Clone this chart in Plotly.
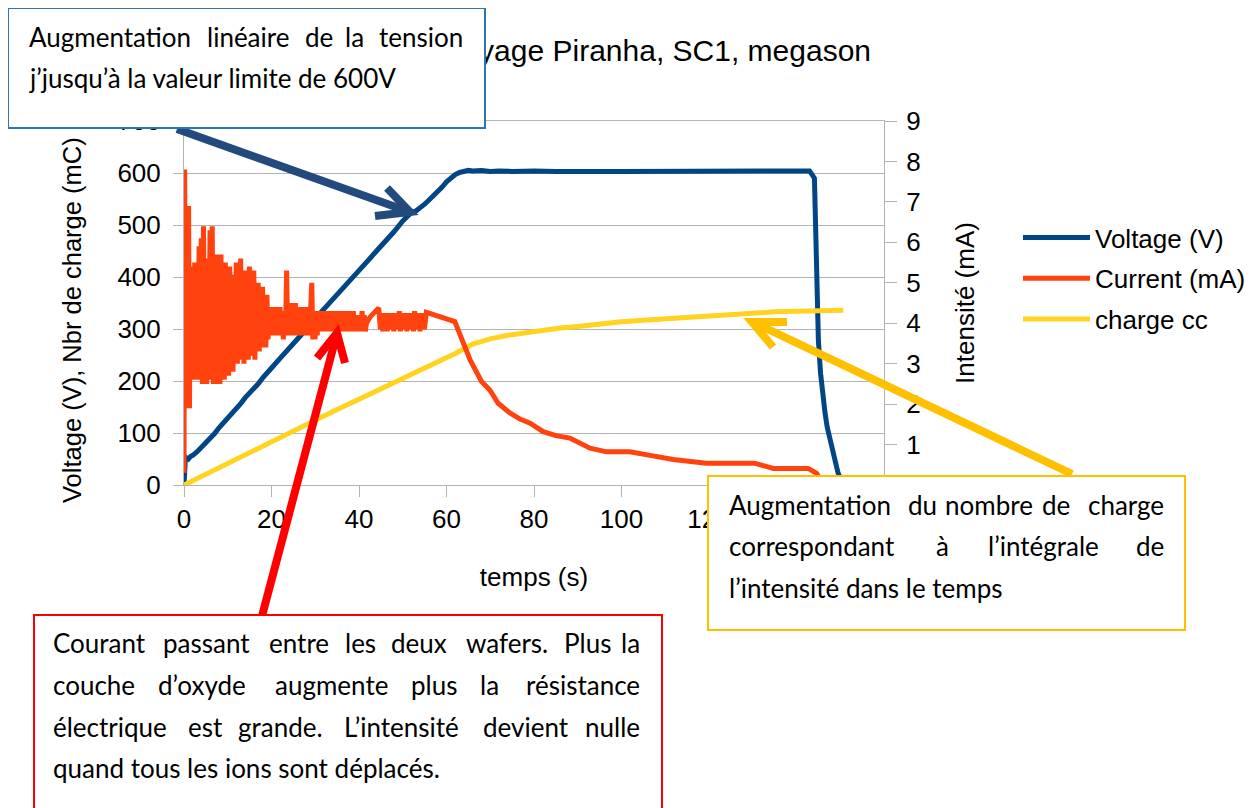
import plotly.graph_objects as go

# ---------------- data ----------------
time_voltage = [0, 0.15, 0.3, 0.6, 1, 1.5, 2, 3, 4, 5, 6, 7, 8, 9, 10, 11, 12, 13, 14, 15,
                16, 17, 18, 19, 20, 22, 24, 26, 28, 30, 32, 34, 36, 38, 40, 42, 44, 46, 48, 50,
                51, 52, 53, 54, 55, 56, 57, 58, 59, 60, 61, 62, 63, 64, 65, 66, 68, 70, 72, 75,
                78, 80, 85, 90, 95, 100, 105, 110, 115, 120, 125, 130, 135, 140, 143, 144.1,
                144.2, 144.3, 144.5, 144.8, 145, 145.5, 146, 146.5, 147, 147.7, 148.5, 149.5,
                150.3, 151]
voltage_v = [0, 25, 48, 52, 50, 55, 57, 64, 72, 80, 90, 99, 110, 119, 130, 138, 148, 157, 168, 176,
             187, 195, 206, 214, 225, 244, 262, 282, 300, 320, 338, 357, 376, 394, 413, 431, 450, 468, 487, 508,
             517, 524, 527, 533, 540, 548, 556, 563, 573, 583, 591, 597, 601, 603, 605, 604, 605, 603, 604, 603,
             604, 604, 603, 604, 603, 603, 603, 604, 603, 604, 604, 605, 604, 604, 604, 590,
             540, 500, 420, 330, 278, 215, 172, 140, 112, 86, 55, 23,
             8, 0]

time_current = [0.0, 0.05, 0.15, 0.3, 0.45, 0.65, 0.85, 1.05, 1.25, 1.45,
                1.7, 1.95, 2.2, 2.45, 2.7, 2.95, 3.2, 3.45, 3.7, 3.95, 4.2, 4.45, 4.7, 4.95, 5.2, 5.45,
                5.7, 5.95, 6.2, 6.45, 6.7, 6.95, 7.2, 7.45, 7.7, 7.95, 8.2, 8.45, 8.7, 8.95, 9.2, 9.45,
                9.7, 9.95, 10.2, 10.45, 10.7, 10.95, 11.2,
                11.45, 11.7, 11.95, 12.2, 12.45, 12.7, 12.95, 13.2, 13.45, 13.7, 13.95, 14.2, 14.45, 14.7,
                14.95, 15.2, 15.45, 15.7, 15.95, 16.2, 16.45, 16.7, 16.95, 17.2, 17.45, 17.7, 17.95, 18.2,
                18.45, 18.7, 18.95, 19.2,
                19.45, 19.7, 19.95, 20.2, 20.45, 20.7, 20.95, 21.2, 21.45, 21.7, 21.95, 22.2, 22.45, 22.7,
                22.95, 23.2, 23.45, 23.7, 23.95, 24.2, 24.45, 24.7, 24.95, 25.2, 25.45, 25.7, 25.95, 26.2,
                26.45, 26.7, 26.95, 27.2, 27.45, 27.7, 27.95, 28.2, 28.45, 28.7, 28.95, 29.2, 29.45,
                29.7, 29.95, 30.2, 30.45, 30.7, 30.95, 31.2, 31.45, 31.7, 31.95, 32.2, 32.45, 32.7, 32.95,
                33.2, 33.45, 33.7, 33.95, 34.2, 34.45, 34.7, 34.95, 35.2, 35.45, 35.7, 35.95, 36.2, 36.45,
                36.7, 36.95, 37.2, 37.45, 37.7, 37.95, 38.2, 38.45, 38.7, 38.95, 39.2, 39.45, 39.7, 39.95,
                40.2, 40.45, 40.7, 40.95, 41.2, 41.45, 41.7,
                42.5, 43.5, 44.5,
                44.9, 45.2, 45.45, 45.7, 45.95, 46.2, 46.45, 46.7, 46.95, 47.2, 47.45, 47.7, 47.95, 48.2,
                48.45, 48.7, 48.95, 49.2, 49.45, 49.7, 49.95, 50.2, 50.45, 50.7, 50.95, 51.2, 51.45, 51.7,
                51.95, 52.2, 52.45, 52.7, 52.95, 53.2, 53.45, 53.7, 53.95, 54.2, 54.45, 54.7, 54.95, 55.4,
                61.9, 63.5, 65.4, 68.0, 69.9, 71.8, 74.5, 76.8, 79.1, 82.1, 85.0, 88.2, 92.8, 96.6,
                101.9, 107.2, 111.8, 119.4, 130.4, 134.7, 142.7, 144.6, 145.5, 147.0, 150.0]
current_ma = [0.3, 2.2, 7.8, 3.8, 1.9, 5.2, 2.2, 6.9, 1.9, 5.4,
              2.7, 5.0, 2.6, 5.5, 2.8, 4.6, 2.6, 5.9, 2.7, 6.1, 2.5, 6.4, 2.6, 5.2, 2.5, 5.6,
              2.8, 6.3, 2.6, 6.4, 2.5, 5.0, 2.5, 5.7, 2.7, 5.6, 2.5, 5.7, 2.6, 5.2, 2.6, 5.5,
              2.8, 5.0, 2.7, 5.4, 2.9, 4.8, 2.8,
              5.2, 3.1, 5.5, 3.0, 4.9, 3.2, 5.6, 3.1, 4.7, 3.0, 5.3, 3.3, 5.0, 3.1,
              5.4, 3.2, 4.6, 3.3, 5.3, 3.1, 4.8, 3.4, 5.0, 3.3, 4.6, 3.4, 4.9, 3.5,
              4.4, 3.4, 4.7, 3.6,
              4.4, 3.7, 4.3, 3.8, 4.4, 3.7, 4.4, 3.8, 4.3, 3.7, 4.4, 3.8, 4.3, 3.6,
              4.2, 3.7, 5.3, 3.7, 4.4, 3.8, 4.5, 3.7, 4.4, 3.8, 4.5, 3.7, 4.3, 3.8,
              4.4, 3.7, 4.4, 3.8, 4.3, 3.7, 4.4, 3.8, 4.3, 3.7, 4.2, 5.0, 3.6,
              4.2, 3.6, 4.3, 3.7, 4.3, 3.8, 4.3, 3.9, 4.3, 3.8, 4.3, 3.9, 4.3, 3.8,
              4.2, 3.9, 4.3, 3.8, 4.3, 3.9, 4.2, 3.8, 4.3, 3.9, 4.3, 3.8, 4.2, 3.9,
              4.3, 3.8, 4.2, 3.9, 4.3, 3.8, 4.2, 3.9, 4.3, 3.8, 4.2, 3.9, 4.2, 3.8,
              4.2, 3.8, 4.3, 3.9, 4.2, 3.8, 4.0,
              4.15, 4.28, 4.38,
              3.85, 4.25, 3.8, 4.2, 3.85, 4.25, 3.8, 4.2, 3.9, 4.25, 3.85, 4.2, 3.8, 4.25,
              3.9, 4.2, 3.85, 4.3, 3.8, 4.2, 3.9, 4.25, 3.85, 4.2, 3.8, 4.25, 3.9, 4.2,
              3.85, 4.25, 3.8, 4.3, 3.9, 4.2, 3.85, 4.25, 3.8, 4.2, 3.9, 4.25, 3.85, 4.27,
              4.04, 3.6, 3.09, 2.56, 2.35, 2.02, 1.78, 1.63, 1.53, 1.32, 1.22, 1.16, 0.91, 0.82,
              0.82, 0.72, 0.63, 0.54, 0.54, 0.41, 0.41, 0.29, 0.12, 0.04, 0.0]

time_charge = [0, 5, 10, 15, 20, 25, 30, 35, 40, 45, 50, 55, 58.5, 62, 66, 70, 74, 78, 82, 86,
               90, 95, 100, 105, 110, 115, 120, 125, 130, 135, 140, 145, 150.7]
charge_mc = [0, 21, 42, 62, 83, 103, 124, 145, 165, 185, 205, 225, 238, 253, 271, 281, 288, 293, 298, 302,
             305, 310, 314, 317, 320, 323, 326, 328, 331, 333, 334, 335, 336]

x_ticks = [0, 20, 40, 60, 80, 100, 120, 140, 160]
y_ticks = [0, 100, 200, 300, 400, 500, 600, 700]
y2_ticks = [0, 1, 2, 3, 4, 5, 6, 7, 8, 9]

series_names = ["Voltage (V)", "Current (mA)", "charge cc"]
series_colors = ["#004586", "#ff420e", "#ffd320"]

# ---------------- layout helpers (screen pixel -> paper) ----------------
OFF = 8                      # page body margin
W, H = 1260 - OFF, 808 - OFF  # figure size
L, R, T, B = 184, 884, 121, 485   # plot area in screen pixels


def px(x):
    return (x - L) / (R - L)


def py(y):
    return (B - y) / (B - T)


fig = go.Figure()
fig.add_trace(go.Scatter(x=time_voltage, y=voltage_v, name=series_names[0], mode="lines",
                         line=dict(color=series_colors[0], width=5), legendgroup="a"))
fig.add_trace(go.Scatter(x=time_current, y=current_ma, name=series_names[1], mode="lines",
                         line=dict(color=series_colors[1], width=5), yaxis="y2", legendgroup="b"))
fig.add_trace(go.Scatter(x=time_charge, y=charge_mc, name=series_names[2], mode="lines",
                         line=dict(color=series_colors[2], width=5), legendgroup="c"))

grid = "#b3b3b3"
CF = "Liberation Sans, Arial, sans-serif"
fig.update_layout(
    width=W, height=H,
    margin=dict(l=L - OFF, r=W - (R - OFF), t=T - OFF, b=H - (B - OFF), autoexpand=False),
    paper_bgcolor="white", plot_bgcolor="white",
    font=dict(family=CF, size=26, color="black"),
    title=dict(text="Nettoyage Piranha, SC1, megason", font=dict(size=30),
               xref="paper", x=px(871), xanchor="right",
               yref="container", y=1 - (50 - OFF) / H, yanchor="middle"),
    xaxis=dict(range=[0, 160], tickvals=x_ticks, ticks="outside", ticklen=11, tickcolor=grid,
               showline=True, linecolor=grid, linewidth=1, mirror=True, showgrid=False,
               zeroline=False,
               title=dict(text="temps (s)", standoff=34, font=dict(size=26))),
    yaxis=dict(range=[0, 700], tickvals=y_ticks, ticks="outside", ticklen=10, tickcolor=grid,
               showline=True, linecolor=grid, showgrid=True, gridcolor=grid, gridwidth=1,
               zeroline=False, ticklabelstandoff=7),
    yaxis2=dict(range=[0, 9], tickvals=y2_ticks, overlaying="y", side="right", ticks="outside",
                ticklen=12, tickcolor=grid, showline=True, linecolor=grid, showgrid=False,
                zeroline=False, ticklabelstandoff=4,
                title=dict(text="Intensité (mA)", standoff=36, font=dict(size=26))),
    legend=dict(x=px(1018), xanchor="left", y=py(278.5), yanchor="middle",
                bgcolor="rgba(0,0,0,0)", font=dict(size=26), traceorder="grouped",
                tracegroupgap=4, itemwidth=67),
    showlegend=True,
)

# ---------------- arrows (shapes) ----------------
def seg(x0, y0, x1, y1, color, w=8):
    return dict(type="line", xref="paper", yref="paper", x0=px(x0), y0=py(y0), x1=px(x1), y1=py(y1),
                line=dict(color=color, width=w), layer="above")


def head(pts, color, w=8):
    p = "M " + " L ".join(f"{px(a):.5f},{py(b):.5f}" for a, b in pts)
    return dict(type="path", xref="paper", yref="paper", path=p,
                line=dict(color=color, width=w), layer="above")


navy, red, gold = "#234a7d", "#ff0000", "#ffc000"
shapes = [
    seg(177, 129, 407, 211, navy), head([(375, 216), (410, 212), (387, 188)], navy),
    seg(262, 616, 336, 337, red), head([(317, 358), (337, 333), (345, 363)], red),
    seg(1072, 474, 755, 323, gold), head([(787, 322), (752, 322), (773, 347)], gold),
]
fig.update_layout(shapes=shapes)

# ---------------- text boxes (annotations) ----------------
def box(x0, y0, x1, y1, color, bw):
    return dict(xref="paper", yref="paper", x=px(x0), y=py(y0), xanchor="left", yanchor="top",
                text=" ", showarrow=False, width=x1 - x0 - 2 * bw, height=y1 - y0 - 2 * bw,
                bgcolor="white", bordercolor=color, borderwidth=bw, borderpad=0)


TF = dict(family="Lato, Carlito, sans-serif", size=26, color="black")


def word(txt, x, y, anchor="left"):
    return dict(xref="paper", yref="paper", x=px(x), y=py(y), xanchor=anchor, yanchor="middle",
                text=txt, showarrow=False, font=TF, borderpad=0)


ann = [
    # left axis title (placed like the reference, slightly below the plot centre)
    dict(xref="paper", yref="paper", x=px(72), y=py(320), xanchor="center", yanchor="middle",
         text="Voltage (V), Nbr de charge (mC)", textangle=-90, showarrow=False,
         font=dict(family=CF, size=25.5, color="black")),
    box(7, 7, 486, 129, "#2e75b6", 2),
    box(33, 614, 663, 840, "#ff0000", 2),
    box(707, 475, 1186, 631, "#ffc000", 2),
]
# top-left box
ann += [word("Augmentation", 28, 37), word("linéaire", 248, 37, "center"), word("de", 319, 37, "center"),
        word("la", 354, 37, "center"), word("tension", 464, 37, "right"),
        word("j’jusqu’à la valeur limite de 600V", 28, 78)]
# red box
ann += [word("Courant", 52, 643), word("passant", 206, 643, "center"), word("entre", 299, 643, "center"),
        word("les", 360, 643, "center"), word("deux", 419, 643, "center"),
        word("wafers.", 507, 643, "center"), word("Plus", 587, 643, "center"), word("la", 641, 643, "right"),
        word("couche", 52, 685), word("d’oxyde", 202, 685, "center"), word("augmente", 331, 685, "center"),
        word("plus", 434, 685, "center"), word("la", 489, 685, "center"), word("résistance", 641, 685, "right"),
        word("électrique", 52, 727), word("est", 205, 727, "center"), word("grande.", 280, 727, "center"),
        word("L’intensité", 401, 727, "center"), word("devient", 526, 727, "center"),
        word("nulle", 641, 727, "right"),
        word("quand tous les ions sont déplacés.", 52, 768)]
# yellow box
ann += [word("Augmentation", 728, 505), word("du", 922, 505, "center"), word("nombre", 989, 505, "center"),
        word("de", 1056, 505, "center"), word("charge", 1165, 505, "right"),
        word("correspondant", 728, 546), word("à", 942, 546, "center"),
        word("l’intégrale", 1043, 546, "center"), word("de", 1165, 546, "right"),
        word("l’intensité dans le temps", 728, 588)]
fig.update_layout(annotations=ann)

fig.write_html("out.html")
